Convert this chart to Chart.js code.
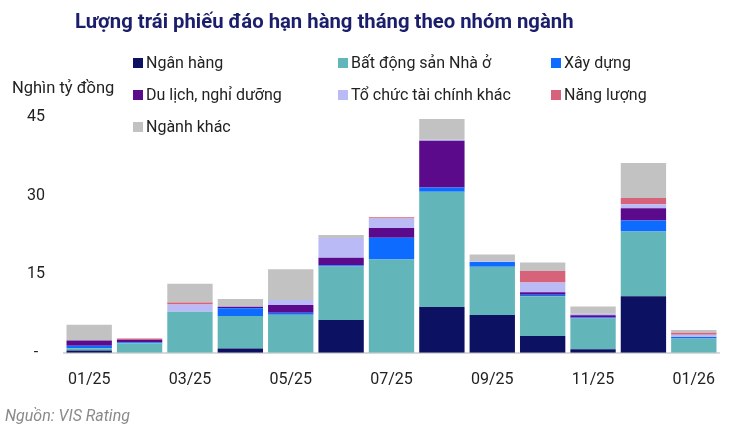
<!DOCTYPE html>
<html>
<head>
<meta charset="utf-8">
<script src="https://cdn.jsdelivr.net/npm/chart.js@4/dist/chart.umd.min.js"></script>
<style>
  body { margin: 0; background: #fff; font-family: Roboto, sans-serif; }
  #wrap { position: relative; width: 750px; height: 433px; }
  #title { position: absolute; left: 75px; top: 9px; font-size: 20.3px; font-weight: bold; color: #1b1f6b; white-space: nowrap; }
  #unit { position: absolute; left: 12px; top: 78px; font-size: 16.5px; color: #222; }
  #legend { position: absolute; left: 133px; top: 53px; }
  .item { position: absolute; white-space: nowrap; font-size: 16px; color: #222; }
  .item span { display: inline-block; width: 10px; height: 10px; margin-right: 3px; }
  #source { position: absolute; left: 5px; top: 406px; font-size: 16px; font-style: italic; color: #8a8a8a; }
</style>
</head>
<body>
<div id="wrap">
  <canvas id="BondChart" width="750" height="433"></canvas>
  <div id="title">Lượng trái phiếu đáo hạn hàng tháng theo nhóm ngành</div>
  <div id="unit">Nghìn tỷ đồng</div>
  <div id="legend"></div>
  <div id="source">Nguồn: VIS Rating</div>
</div>
<script>
// data (nghìn tỷ đồng)
var months = ["01/25", "02/25", "03/25", "04/25", "05/25", "06/25", "07/25", "08/25", "09/25", "10/25", "11/25", "12/25", "01/26"];
var nganHang  = [0.45, 0, 0, 0.8, 0, 6.25, 0, 8.75, 7.2, 3.2, 0.7, 10.8, 0];
var batDongSan = [0.4, 1.8, 7.85, 6.2, 7.25, 10.2, 17.8, 22.0, 9.2, 7.6, 5.85, 12.35, 2.75];
var xayDung   = [0.5, 0.2, 0, 1.5, 0.4, 0.25, 4.15, 0.8, 0.95, 0.3, 0.2, 2.1, 0.25];
var duLich    = [1.0, 0.5, 0, 0.3, 1.45, 1.45, 1.85, 8.9, 0, 0.45, 0.4, 2.35, 0];
var toChucTC  = [0, 0, 1.35, 0.1, 1.0, 3.75, 1.85, 0.2, 0.1, 1.85, 0.3, 0.75, 0.45];
var nangLuong = [0, 0.25, 0.4, 0, 0, 0, 0.2, 0, 0, 2.2, 0, 1.2, 0.4];
var nganhKhac = [3.0, 0, 3.6, 1.35, 5.85, 0.6, 0, 3.95, 1.3, 1.65, 1.4, 6.65, 0.5];
var yTicks = [0, 15, 30, 45];

var series = [
    { label: "Ngân hàng", data: nganHang, color: "#0d1162" },
    { label: "Bất động sản Nhà ở", data: batDongSan, color: "#62b6ba" },
    { label: "Xây dựng", data: xayDung, color: "#0d6bff" },
    { label: "Du lịch, nghỉ dưỡng", data: duLich, color: "#5c0a8c" },
    { label: "Tổ chức tài chính khác", data: toChucTC, color: "#babaf6" },
    { label: "Năng lượng", data: nangLuong, color: "#d6637a" },
    { label: "Ngành khác", data: nganhKhac, color: "#c2c2c2" }
];

// legend laid out in 3 columns like the original
var legendPos = [[0, 0], [205, 0], [418, 0], [0, 32], [205, 32], [418, 32], [0, 64]];
var legend = document.getElementById('legend');
series.forEach(function (s, i) {
    var d = document.createElement('div');
    d.className = 'item';
    d.style.left = legendPos[i][0] + 'px';
    d.style.top = legendPos[i][1] + 'px';
    d.innerHTML = '<span style="background:' + s.color + '"></span>' + s.label;
    legend.appendChild(d);
});

var ctx = document.getElementById('BondChart').getContext('2d');

new Chart(ctx, {
    type: 'bar',
    data: {
        labels: months,
        datasets: series.map(function (s) {
            return {
                label: s.label,
                data: s.data,
                backgroundColor: s.color,
                borderWidth: 0,
                categoryPercentage: 1,
                barPercentage: 0.9
            };
        })
    },
    options: {
        responsive: false,
        animation: false,
        layout: { padding: { top: 117, right: 31, bottom: 25, left: 10 } },
        plugins: {
            legend: { display: false },
            tooltip: { enabled: false }
        },
        scales: {
            x: {
                stacked: true,
                grid: { display: false, drawTicks: false },
                border: { display: true, color: "#d9d9d9", width: 2 },
                ticks: {
                    autoSkip: false,
                    maxRotation: 0,
                    padding: 18,
                    color: "#222",
                    font: { family: "Roboto", size: 16 },
                    callback: function (v, i) { return i % 2 === 0 ? months[i] : ''; }
                }
            },
            y: {
                stacked: true,
                min: 0,
                max: 45,
                afterBuildTicks: function (axis) {
                    axis.ticks = yTicks.map(function (v) { return { value: v }; });
                },
                afterFit: function (axis) { axis.width = 54; },
                grid: { display: false, drawTicks: false },
                border: { display: false },
                ticks: {
                    crossAlign: 'center',
                    padding: 19,
                    color: "#222",
                    font: { family: "Roboto", size: 16 },
                    callback: function (v) { return v === 0 ? '-' : v; }
                }
            }
        }
    }
});
</script>
</body>
</html>
